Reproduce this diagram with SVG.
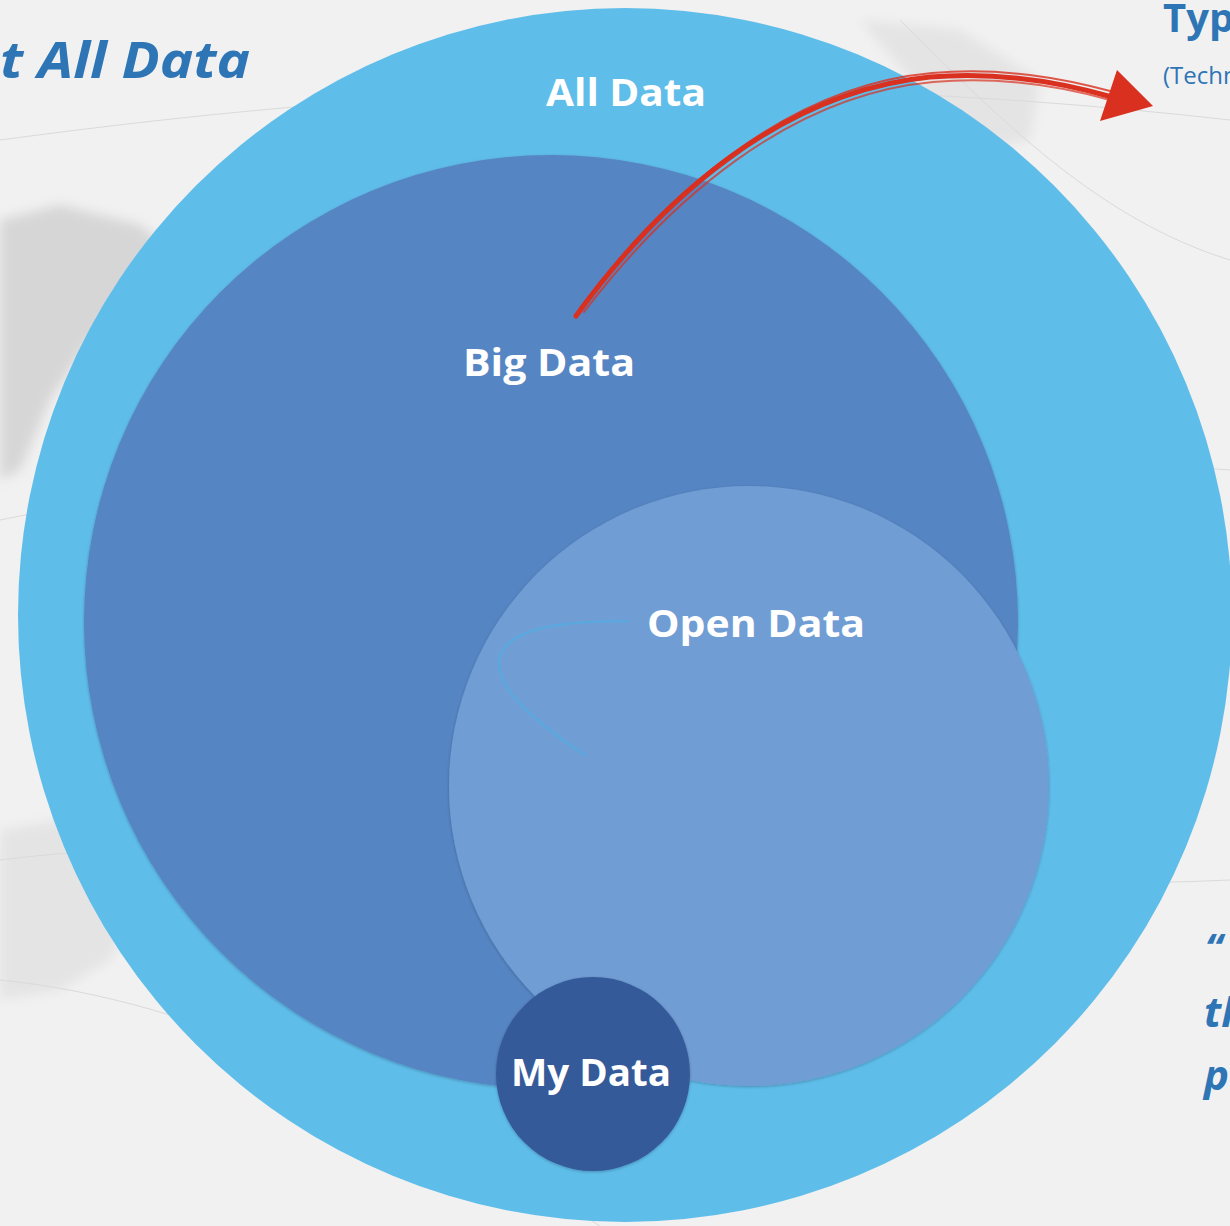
<svg xmlns="http://www.w3.org/2000/svg" width="1230" height="1226" viewBox="0 0 1230 1226">
<defs>
<style>
.lbl{font-family:"Open Sans","Lato","Liberation Sans",sans-serif;font-weight:700;fill:#ffffff;text-anchor:middle}
.head{font-family:"Open Sans","Lato","Liberation Sans",sans-serif;font-weight:700;fill:#2E75B6}
.sub{font-family:"Open Sans","Lato","Liberation Sans",sans-serif;font-weight:400;fill:#2E75B6}
.bg-line{fill:none;stroke:#dadada;stroke-width:1}
.red{fill:none;stroke:#D9301F;stroke-linecap:round}
</style>
<filter id="sh" x="-5%" y="-5%" width="110%" height="110%">
<feDropShadow dx="0" dy="1" stdDeviation="1.5" flood-color="#000" flood-opacity="0.25"/>
</filter>
<filter id="blur"><feGaussianBlur stdDeviation="6"/></filter>
</defs>
<g id="background">
<rect width="1230" height="1226" fill="#f1f1f1"/>
<path d="M0 220 L60 205 L140 225 L170 250 L140 300 L90 340 L50 400 L20 470 L0 480 Z" fill="#cdcdcd" opacity="0.75" filter="url(#blur)"/>
<path d="M0 830 L60 820 L120 840 L140 900 L110 960 L60 990 L0 1000 Z" fill="#dcdcdc" opacity="0.6" filter="url(#blur)"/>
<path d="M860 20 L960 30 L1040 80 L1030 140 L980 150 L920 90 Z" fill="#dcdcdc" opacity="0.6" filter="url(#blur)"/>
<path class="bg-line" d="M0 140 C300 100 700 60 1230 120"/>
<path class="bg-line" d="M0 520 C200 480 600 420 1230 470"/>
<path class="bg-line" d="M0 860 C300 820 800 900 1230 880"/>
<path class="bg-line" d="M900 20 C1000 120 1100 220 1230 260"/>
<path class="bg-line" d="M0 980 C200 1000 400 1100 600 1226"/>
</g>
<g id="header-left">
<text class="head" x="0" y="78" font-size="50" font-style="italic" textLength="250" lengthAdjust="spacingAndGlyphs">t All Data</text>
</g>
<g id="header-right">
<text class="head" x="1163" y="32" font-size="40">Typ</text>
<text class="sub" x="1163" y="84" font-size="24">(Techn</text>
</g>
<g id="quote-right">
<text class="head" x="1205" y="962" font-size="40" font-style="italic">“</text>
<text class="head" x="1204" y="1027" font-size="42" font-style="italic">th</text>
<text class="head" x="1204" y="1090" font-size="42" font-style="italic">p</text>
</g>
<g id="all-data">
<circle cx="625" cy="615" r="607" fill="#5FBDEA"/>
<text class="lbl" x="626" y="106" font-size="38" textLength="160" lengthAdjust="spacingAndGlyphs">All Data</text>
</g>
<g id="big-data">
<circle cx="551" cy="622" r="467" fill="#5785C3" filter="url(#sh)"/>
<text class="lbl" x="549" y="376" font-size="38" textLength="172" lengthAdjust="spacingAndGlyphs">Big Data</text>
</g>
<g id="open-data">
<circle cx="749" cy="786" r="300" fill="#6F9DD4" filter="url(#sh)"/>
<text class="lbl" x="756" y="637" font-size="38" textLength="218" lengthAdjust="spacingAndGlyphs">Open Data</text>
</g>
<g id="my-data">
<circle cx="593" cy="1074" r="97" fill="#355A9A" filter="url(#sh)"/>
<text class="lbl" x="591" y="1086" font-size="37" textLength="160" lengthAdjust="spacingAndGlyphs">My Data</text>
</g>
<g id="connectors">
<path d="M628 621 C560 621 505 628 499 660 C495 690 540 725 585 755" fill="none" stroke="#5BA8DE" stroke-width="2.5" stroke-linecap="round"/>
<path class="red" stroke-width="5" d="M576 316 C660 200 780 92 930 77 C1000 71 1060 82 1112 97"/>
<path class="red" stroke-width="2" opacity="0.8" d="M580 308 C665 196 785 86 932 73 C1002 67 1062 78 1114 92"/>
<path class="red" stroke-width="2" opacity="0.7" d="M584 312 C668 202 788 95 933 82 C1000 76 1060 86 1110 100"/>
<polygon points="1117,70 1100,121 1153,106" fill="#D9301F"/>
</g>
</svg>
